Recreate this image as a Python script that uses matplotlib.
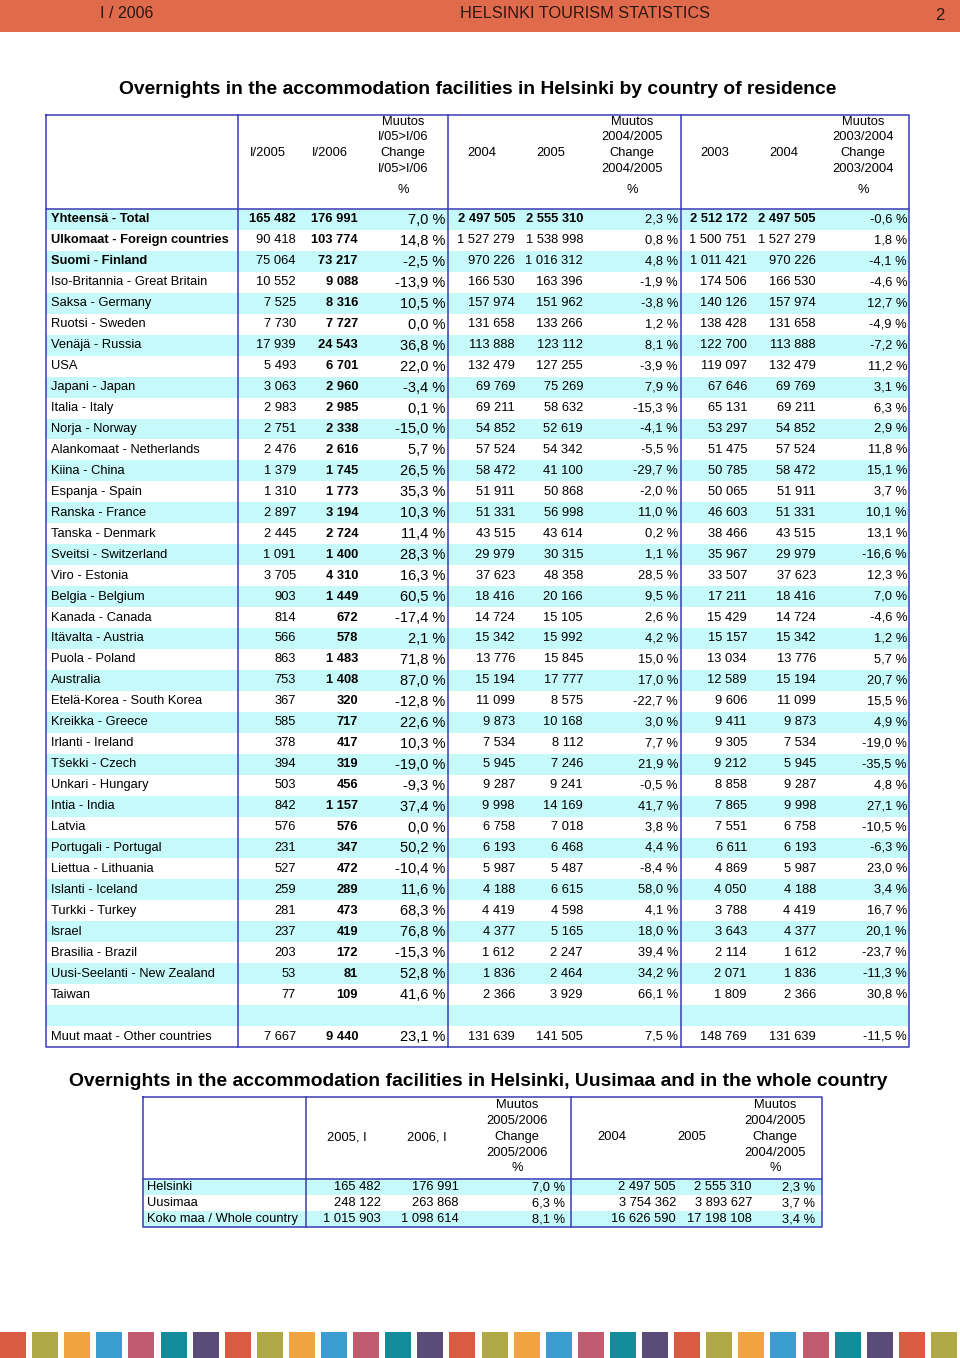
import matplotlib.pyplot as plt
from matplotlib.patches import Rectangle

plt.rcParams['font.family'] = ['Liberation Sans', 'DejaVu Sans']

# --- data: main table ---
countries = ["Yhteensä - Total", "Ulkomaat - Foreign countries", "Suomi - Finland",
             "Iso-Britannia - Great Britain", "Saksa - Germany", "Ruotsi - Sweden",
             "Venäjä - Russia", "USA", "Japani - Japan", "Italia - Italy", "Norja - Norway",
             "Alankomaat - Netherlands", "Kiina - China", "Espanja - Spain", "Ranska - France",
             "Tanska - Denmark", "Sveitsi - Switzerland", "Viro - Estonia", "Belgia - Belgium",
             "Kanada - Canada", "Itävalta - Austria", "Puola - Poland", "Australia",
             "Etelä-Korea - South Korea", "Kreikka - Greece", "Irlanti - Ireland",
             "Tšekki - Czech", "Unkari - Hungary", "Intia - India", "Latvia",
             "Portugali - Portugal", "Liettua - Lithuania", "Islanti - Iceland",
             "Turkki - Turkey", "Israel", "Brasilia - Brazil", "Uusi-Seelanti - New Zealand",
             "Taiwan", "", "Muut maat - Other countries"]

q1_2005 = [165482, 90418, 75064, 10552, 7525, 7730, 17939, 5493, 3063, 2983, 2751, 2476,
           1379, 1310, 2897, 2445, 1091, 3705, 903, 814, 566, 863, 753, 367, 585, 378, 394,
           503, 842, 576, 231, 527, 259, 281, 237, 203, 53, 77, None, 7667]
q1_2006 = [176991, 103774, 73217, 9088, 8316, 7727, 24543, 6701, 2960, 2985, 2338, 2616,
           1745, 1773, 3194, 2724, 1400, 4310, 1449, 672, 578, 1483, 1408, 320, 717, 417,
           319, 456, 1157, 576, 347, 472, 289, 473, 419, 172, 81, 109, None, 9440]
chg_q1 = [7.0, 14.8, -2.5, -13.9, 10.5, 0.0, 36.8, 22.0, -3.4, 0.1, -15.0, 5.7, 26.5, 35.3,
          10.3, 11.4, 28.3, 16.3, 60.5, -17.4, 2.1, 71.8, 87.0, -12.8, 22.6, 10.3, -19.0,
          -9.3, 37.4, 0.0, 50.2, -10.4, 11.6, 68.3, 76.8, -15.3, 52.8, 41.6, None, 23.1]
y2003 = [2512172, 1500751, 1011421, 174506, 140126, 138428, 122700, 119097, 67646, 65131,
         53297, 51475, 50785, 50065, 46603, 38466, 35967, 33507, 17211, 15429, 15157, 13034,
         12589, 9606, 9411, 9305, 9212, 8858, 7865, 7551, 6611, 4869, 4050, 3788, 3643, 2114,
         2071, 1809, None, 148769]
y2004 = [2497505, 1527279, 970226, 166530, 157974, 131658, 113888, 132479, 69769, 69211,
         54852, 57524, 58472, 51911, 51331, 43515, 29979, 37623, 18416, 14724, 15342, 13776,
         15194, 11099, 9873, 7534, 5945, 9287, 9998, 6758, 6193, 5987, 4188, 4419, 4377, 1612,
         1836, 2366, None, 131639]
y2005 = [2555310, 1538998, 1016312, 163396, 151962, 133266, 123112, 127255, 75269, 58632,
         52619, 54342, 41100, 50868, 56998, 43614, 30315, 48358, 20166, 15105, 15992, 15845,
         17777, 8575, 10168, 8112, 7246, 9241, 14169, 7018, 6468, 5487, 6615, 4598, 5165, 2247,
         2464, 3929, None, 141505]
chg_0405 = [2.3, 0.8, 4.8, -1.9, -3.8, 1.2, 8.1, -3.9, 7.9, -15.3, -4.1, -5.5, -29.7, -2.0,
            11.0, 0.2, 1.1, 28.5, 9.5, 2.6, 4.2, 15.0, 17.0, -22.7, 3.0, 7.7, 21.9, -0.5, 41.7,
            3.8, 4.4, -8.4, 58.0, 4.1, 18.0, 39.4, 34.2, 66.1, None, 7.5]
chg_0304 = [-0.6, 1.8, -4.1, -4.6, 12.7, -4.9, -7.2, 11.2, 3.1, 6.3, 2.9, 11.8, 15.1, 3.7,
            10.1, 13.1, -16.6, 12.3, 7.0, -4.6, 1.2, 5.7, 20.7, 15.5, 4.9, -19.0, -35.5, 4.8,
            27.1, -10.5, -6.3, 23.0, 3.4, 16.7, 20.1, -23.7, -11.3, 30.8, None, -11.5]

# --- data: second table ---
regions = ["Helsinki", "Uusimaa", "Koko maa / Whole country"]
r_q1_2005 = [165482, 248122, 1015903]
r_q1_2006 = [176991, 263868, 1098614]
r_chg_q1 = [7.0, 6.3, 8.1]
r_2004 = [2497505, 3754362, 16626590]
r_2005 = [2555310, 3893627, 17198108]
r_chg = [2.3, 3.7, 3.4]

strip_colors = ["#d95b41", "#b0a845", "#f0a33e", "#3c9dd2", "#c05b70", "#138b9b", "#5a4c76"]

BLUE = "#3b3bb5"
CYAN = "#c6f9f9"
FS = 9.3


def num(v):
    return "" if v is None else f"{v:,}".replace(",", " ")


def pct(v):
    return "" if v is None else f"{v:.1f}".replace(".", ",") + " %"


fig = plt.figure(figsize=(9.6, 13.58), dpi=100)
ax = fig.add_axes([0, 0, 1, 1])
ax.set_xlim(0, 960)
ax.set_ylim(1358, 0)
ax.axis("off")

# ylävalkki
ax.add_patch(Rectangle((0, 0), 960, 32, color="#e06a4c", lw=0))
ax.text(100, 14, "I / 2006", fontsize=11.5, va="center", color="#2a1810")
ax.text(585, 14, "HELSINKI TOURISM STATISTICS", fontsize=11.7, va="center", ha="center", color="#2a1810")
ax.text(940, 15, "2", fontsize=12, va="center", ha="center", color="#2a1810")

# ---------- main table ----------
ax.text(478, 89, "Overnights in the accommodation facilities in Helsinki by country of residence",
        fontsize=13.9, fontweight="bold", ha="center", va="center")

x0, x1 = 46, 909
top, hbot = 115, 209
rh = 20.95
n = len(countries)
bot = hbot + rh * n

for i in range(n):
    if i % 2 == 0:
        ax.add_patch(Rectangle((x0, hbot + i * rh), x1 - x0, rh, color=CYAN, lw=0))

# header
ax.plot([x0, x1, x1, x0, x0], [top, top, bot, bot, top], color=BLUE, lw=1.1)
ax.plot([x0, x1], [hbot, hbot], color=BLUE, lw=1.1)
for xv in [238, 448, 681]:
    ax.plot([xv, xv], [top, bot], color=BLUE, lw=1.1)

hy = [122, 137.5, 153, 168.5]
for cx, t in [(268, "I/2005"), (330, "I/2006"), (482, "2004"), (551, "2005"), (715, "2003"), (784, "2004")]:
    ax.text(cx, hy[2], t, fontsize=FS, ha="center", va="center")
for cx, a, b in [(403, "I/05>I/06", "I/05>I/06"), (632, "2004/2005", "2004/2005"), (863, "2003/2004", "2003/2004")]:
    for yy, t in zip(hy, ["Muutos", a, "Change", b]):
        ax.text(cx, yy, t, fontsize=FS, ha="center", va="center")
    ax.text(cx, 190, "%", fontsize=FS, ha="center", va="center")

for i in range(n):
    yc = hbot + (i + 0.5) * rh
    top_rows = i < 3
    ax.text(51, yc, countries[i], fontsize=FS, va="center",
            fontweight="bold" if top_rows else "normal")
    w_all = "bold" if i == 0 else "normal"
    ax.text(296, yc, num(q1_2005[i]), fontsize=FS, ha="right", va="center", fontweight=w_all)
    ax.text(358, yc, num(q1_2006[i]), fontsize=FS, ha="right", va="center", fontweight="bold")
    ax.text(445, yc + 0.5, pct(chg_q1[i]), fontsize=10.5, ha="right", va="center")
    ax.text(515, yc, num(y2004[i]), fontsize=FS, ha="right", va="center", fontweight=w_all)
    ax.text(583, yc, num(y2005[i]), fontsize=FS, ha="right", va="center", fontweight=w_all)
    ax.text(678, yc, pct(chg_0405[i]), fontsize=FS, ha="right", va="center")
    ax.text(747, yc, num(y2003[i]), fontsize=FS, ha="right", va="center", fontweight=w_all)
    ax.text(816, yc, num(y2004[i]), fontsize=FS, ha="right", va="center", fontweight=w_all)
    ax.text(907, yc, pct(chg_0304[i]), fontsize=FS, ha="right", va="center")

# ---------- second table ----------
ax.text(478, 1081, "Overnights in the accommodation facilities in Helsinki, Uusimaa and in the whole country",
        fontsize=13.9, fontweight="bold", ha="center", va="center")

t0, t1 = 143, 822
ttop, thbot = 1097, 1179
trh = 16
tbot = thbot + trh * len(regions)

for i in range(len(regions)):
    if i % 2 == 0:
        ax.add_patch(Rectangle((t0, thbot + i * trh), t1 - t0, trh, color=CYAN, lw=0))

ax.plot([t0, t1, t1, t0, t0], [ttop, ttop, tbot, tbot, ttop], color=BLUE, lw=1.1)
ax.plot([t0, t1], [thbot, thbot], color=BLUE, lw=1.1)
for xv in [306, 571]:
    ax.plot([xv, xv], [ttop, tbot], color=BLUE, lw=1.1)

hy2 = [1105, 1120.5, 1137, 1152.5, 1168]
for cx, t in [(347, "2005, I"), (427, "2006, I"), (612, "2004"), (692, "2005")]:
    ax.text(cx, hy2[2], t, fontsize=FS, ha="center", va="center")
for cx, a in [(517, "2005/2006"), (775, "2004/2005")]:
    for yy, t in zip(hy2, ["Muutos", a, "Change", a, "%"]):
        ax.text(cx, yy, t, fontsize=FS, ha="center", va="center")

for i in range(len(regions)):
    yc = thbot + (i + 0.5) * trh
    ax.text(147, yc, regions[i], fontsize=FS, va="center")
    ax.text(381, yc, num(r_q1_2005[i]), fontsize=FS, ha="right", va="center")
    ax.text(459, yc, num(r_q1_2006[i]), fontsize=FS, ha="right", va="center")
    ax.text(565, yc, pct(r_chg_q1[i]), fontsize=FS, ha="right", va="center")
    ax.text(676, yc, num(r_2004[i]), fontsize=FS, ha="right", va="center")
    ax.text(752, yc, num(r_2005[i]), fontsize=FS, ha="right", va="center")
    ax.text(815, yc, pct(r_chg[i]), fontsize=FS, ha="right", va="center")

# bottom colour strip
for k in range(30):
    ax.add_patch(Rectangle((k * 32.1, 1332), 26, 26, color=strip_colors[k % 7], lw=0))

fig.savefig("out.png", dpi=100)
